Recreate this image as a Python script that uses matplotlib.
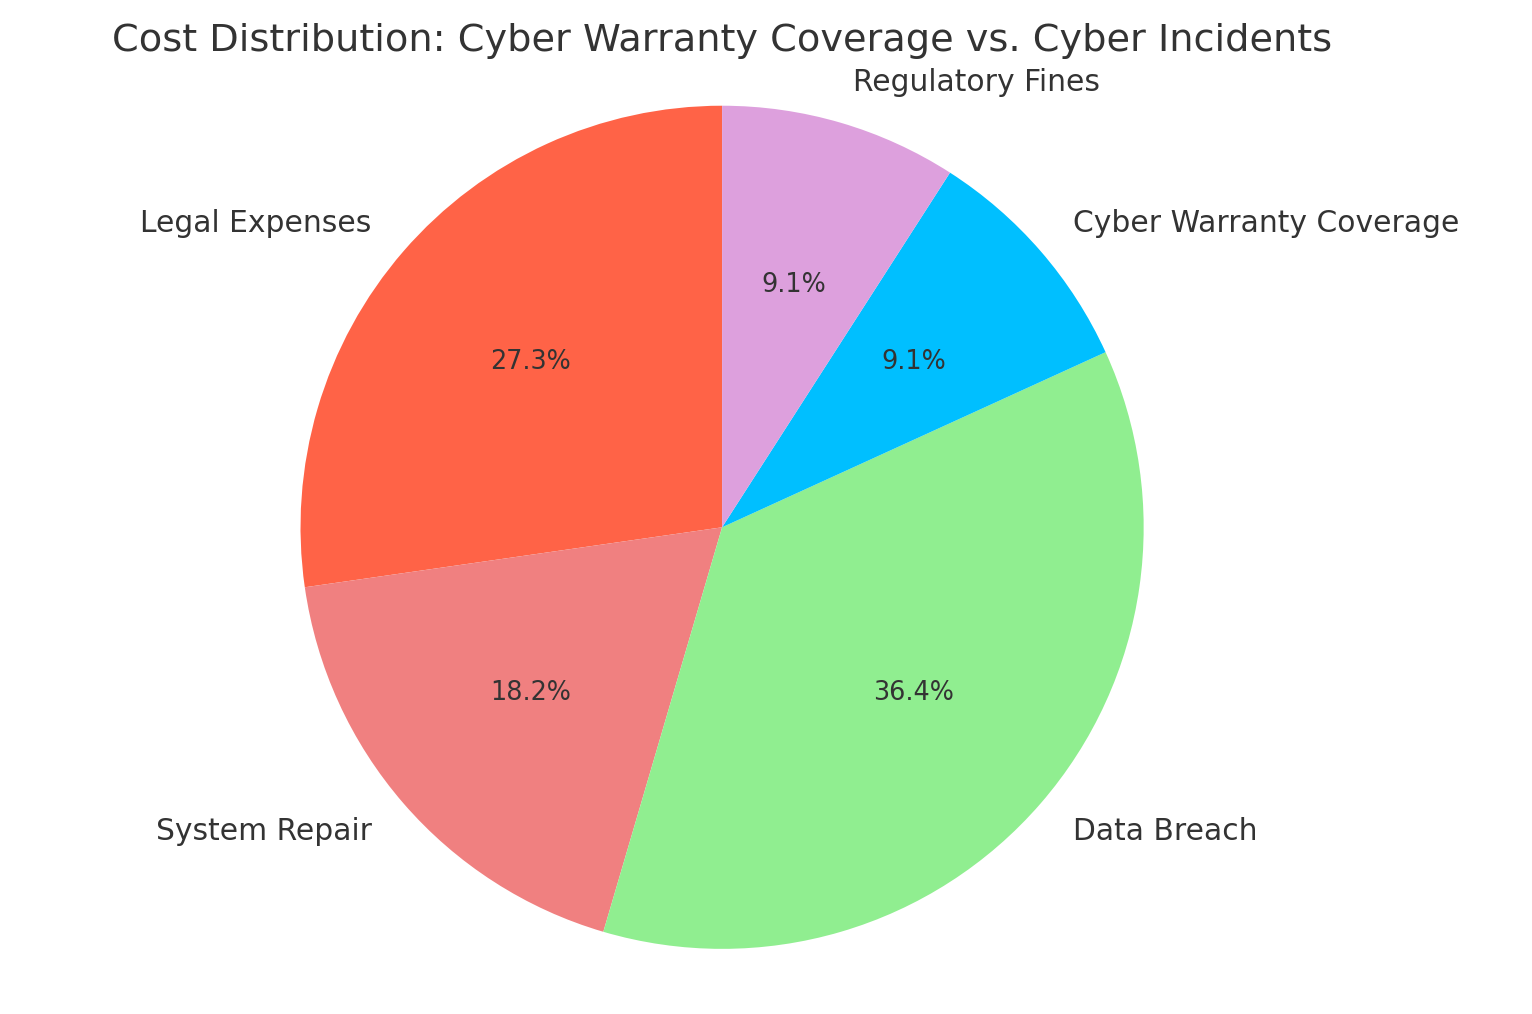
import matplotlib.pyplot as plt

labels = ['Legal Expenses', 'System Repair', 'Data Breach', 'Cyber Warranty Coverage', 'Regulatory Fines']
values = [3, 2, 4, 1, 1]
colors = ['tomato', 'lightcoral', 'lightgreen', 'deepskyblue', 'plum']

plt.rcParams['text.color'] = '#333333'
fig, ax = plt.subplots(figsize=(10, 6.62), dpi=153.2)
ax.pie(values, labels=labels, colors=colors, autopct='%1.1f%%', startangle=90,
       textprops={'fontsize': 14}, pctdistance=0.6, labeldistance=1.1)
for t in ax.texts:
    if t.get_text().endswith('%'):
        t.set_fontsize(12)
ax.set_title('Cost Distribution: Cyber Warranty Coverage vs. Cyber Incidents', fontsize=18)
ax.axis('equal')
plt.tight_layout()
plt.savefig('out.png')
